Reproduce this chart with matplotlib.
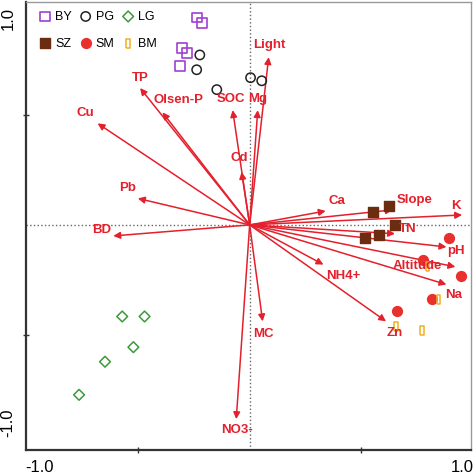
import matplotlib
matplotlib.use('Agg')
import matplotlib.pyplot as plt
import numpy as np

plt.rcParams['font.family'] = ['Liberation Sans', 'DejaVu Sans']

# environmental variable arrows (tip coordinates)
var_names = ['Light', 'Mg', 'SOC', 'Olsen-P', 'TP', 'Cu', 'Pb', 'BD', 'Cd', 'Ca',
             'Slope', 'K', 'TN', 'pH', 'Altitude', 'Na', 'NH4+', 'Zn', 'MC', 'NO3-']
var_x = [0.085, 0.036, -0.076, -0.39, -0.49, -0.68, -0.50, -0.61, -0.036, 0.34,
         0.64, 0.95, 0.65, 0.88, 0.92, 0.88, 0.33, 0.61, 0.058, -0.06]
var_y = [0.76, 0.52, 0.52, 0.51, 0.62, 0.46, 0.12, -0.05, 0.24, 0.063,
         0.068, 0.045, -0.04, -0.10, -0.19, -0.27, -0.18, -0.437, -0.437, -0.88]

# sample scores per site
by_x = [-0.237, -0.214, -0.304, -0.281, -0.313]
by_y = [0.94, 0.914, 0.802, 0.779, 0.72]
pg_x = [-0.223, -0.237, -0.147, 0.004, 0.054]
pg_y = [0.77, 0.703, 0.613, 0.667, 0.653]
lg_x = [-0.57, -0.47, -0.52, -0.647, -0.763]
lg_y = [-0.415, -0.415, -0.554, -0.62, -0.77]
sz_x = [0.55, 0.625, 0.652, 0.58, 0.518]
sz_y = [0.059, 0.086, 0.0, -0.045, -0.059]
sm_x = [0.893, 0.777, 0.946, 0.817, 0.66]
sm_y = [-0.059, -0.158, -0.23, -0.338, -0.392]
bm_x = [0.795, 0.844, 0.656, 0.772]
bm_y = [-0.189, -0.338, -0.46, -0.477]

# label offsets in pixels (dx, dy with y up)
label_off = {
    'Light': (1, 12), 'Mg': (0, 11), 'SOC': (-2, 11), 'Olsen-P': (16, 12),
    'TP': (0, 10), 'Cu': (-12, 10), 'Pb': (-10, 10), 'BD': (-12, 6),
    'Cd': (-2, 14), 'Ca': (11, 10), 'Slope': (22, 10), 'K': (-6, 9),
    'TN': (13, 5), 'pH': (10, -4), 'Altitude': (-38, 1), 'Na': (7, -11),
    'NH4+': (20, -11), 'Zn': (9, -12), 'MC': (1, -13), 'NO3-': (1, -11),
}

red = '#E4202C'

fig = plt.figure(figsize=(4.74, 4.73), dpi=100)
ax = fig.add_axes([0.055, 0.0486, 0.9387, 0.9472])
ax.set_xlim(-1.0, 0.99)
ax.set_ylim(-1.02, 1.01)

ax.axhline(0, color='#666666', ls=':', lw=1, zorder=1)
ax.axvline(0, color='#666666', ls=':', lw=1, zorder=1)

for name, x, y in zip(var_names, var_x, var_y):
    ax.annotate('', xy=(x, y), xytext=(0, 0),
                arrowprops=dict(arrowstyle='-|>', color=red, lw=1.1,
                                mutation_scale=10, shrinkA=0, shrinkB=0),
                zorder=2)
    dx, dy = label_off[name]
    ax.annotate(name, xy=(x, y), xytext=(dx, dy), textcoords='offset pixels',
                ha='center', va='center', color=red, fontsize=9.5,
                fontweight='bold', zorder=4)

rect = [(-0.4, -1), (0.4, -1), (0.4, 1), (-0.4, 1), (-0.4, -1)]
h_by = ax.scatter(by_x, by_y, marker='s', s=50, facecolors='none',
                  edgecolors='#A040D0', linewidths=1.2, label='BY', zorder=3)
h_pg = ax.scatter(pg_x, pg_y, marker='o', s=45, facecolors='none',
                  edgecolors='#222222', linewidths=1.1, label='PG', zorder=3)
h_lg = ax.scatter(lg_x, lg_y, marker='D', s=30, facecolors='none',
                  edgecolors='#3C9A3C', linewidths=1.1, label='LG', zorder=3)
h_sz = ax.scatter(sz_x, sz_y, marker='s', s=55, color='#6B2C10',
                  label='SZ', zorder=3)
h_sm = ax.scatter(sm_x, sm_y, marker='o', s=50, color='#E8302E',
                  label='SM', zorder=3)
h_bm = ax.scatter(bm_x, bm_y, marker=rect, s=45, facecolors='none',
                  edgecolors='#F0B020', linewidths=1.1, label='BM', zorder=3)

ax.legend(handles=[h_by, h_sz, h_pg, h_sm, h_lg, h_bm], ncol=3,
          loc='upper left', bbox_to_anchor=(0.012, 1.0), frameon=False,
          fontsize=9, handlelength=0.8, handletextpad=0.4, columnspacing=0.7,
          labelspacing=1.2, borderaxespad=0.4, borderpad=0.3)

ax.set_xticks([-0.5, 0.5])
ax.set_yticks([-0.5, 0.5])
ax.set_xticklabels([])
ax.set_yticklabels([])
ax.tick_params(direction='inout', length=5, width=1, color='#333333')

for side in ['left', 'bottom']:
    ax.spines[side].set_linewidth(1.6)
    ax.spines[side].set_color('#333333')
for side in ['top', 'right']:
    ax.spines[side].set_linewidth(1)
    ax.spines[side].set_color('#999999')

fig.text(40 / 474, 1 - 467 / 473, '-1.0', ha='center', va='center', fontsize=12)
fig.text(462 / 474, 1 - 467 / 473, '1.0', ha='center', va='center', fontsize=12)
fig.text(8 / 474, 1 - 18 / 473, '1.0', ha='center', va='center', fontsize=12, rotation=90)
fig.text(8 / 474, 1 - 423 / 473, '-1.0', ha='center', va='center', fontsize=12, rotation=90)

fig.savefig('out.png', dpi=100)
